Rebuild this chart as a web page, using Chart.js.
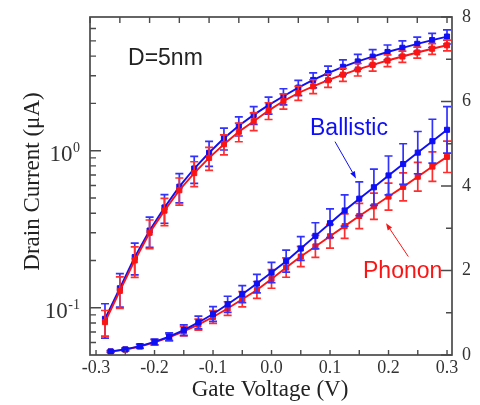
<!DOCTYPE html>
<html>
<head>
<meta charset="utf-8">
<title>Drain current vs gate voltage</title>
<script src="https://cdn.jsdelivr.net/npm/chart.js@4"></script>
<style>
  html, body { margin: 0; padding: 0; background: #fff; }
  #wrap { width: 480px; height: 405px; }
</style>
</head>
<body>
<div id="wrap"><canvas id="ivChart"></canvas></div>
<script>
// Gate voltage sweep (V)
const gateV = [-0.275, -0.25, -0.225, -0.2, -0.175, -0.15, -0.125, -0.1, -0.075, -0.05, -0.025, 0,
               0.025, 0.05, 0.075, 0.1, 0.125, 0.15, 0.175, 0.2, 0.225, 0.25, 0.275, 0.3];

// Drain current (uA) with error bars
const ballistic    = [0.085, 0.133, 0.21, 0.31, 0.435, 0.59, 0.77, 0.97, 1.20, 1.44, 1.69, 1.95,
                      2.22, 2.52, 2.82, 3.12, 3.42, 3.70, 3.97, 4.25, 4.52, 4.79, 5.06, 5.33];
const ballisticErr = [0.021, 0.032, 0.048, 0.068, 0.090, 0.125, 0.150, 0.175, 0.19, 0.20, 0.22, 0.24,
                      0.26, 0.28, 0.31, 0.34, 0.37, 0.40, 0.43, 0.46, 0.48, 0.50, 0.52, 0.55];
const phonon       = [0.081, 0.128, 0.20, 0.30, 0.415, 0.56, 0.72, 0.90, 1.10, 1.32, 1.54, 1.80,
                      2.07, 2.33, 2.57, 2.81, 3.05, 3.29, 3.52, 3.75, 3.98, 4.22, 4.46, 4.69];
const phononErr    = [0.015, 0.029, 0.044, 0.062, 0.082, 0.11, 0.13, 0.15, 0.16, 0.18, 0.20, 0.22,
                      0.23, 0.24, 0.26, 0.28, 0.29, 0.30, 0.31, 0.32, 0.33, 0.34, 0.35, 0.37];

// Axis ticks
const xTicks      = [-0.3, -0.25, -0.2, -0.15, -0.1, -0.05, 0, 0.05, 0.1, 0.15, 0.2, 0.25, 0.3];
const xLabelVals  = [-0.3, -0.2, -0.1, 0, 0.1, 0.2, 0.3];
const xLabels     = ['-0.3', '-0.2', '-0.1', '0.0', '0.1', '0.2', '0.3'];
const logMajor    = [0.1, 1];
const logExp      = ['-1', '0'];
const logMinor    = [0.06, 0.07, 0.08, 0.09, 0.2, 0.3, 0.4, 0.5, 0.6, 0.7, 0.8, 0.9, 2, 3, 4, 5, 6];
const linMajor    = [0, 2, 4, 6, 8];
const linLabels   = ['0', '2', '4', '6', '8'];
const linMinor    = [1, 3, 5, 7];

const BLUE = 'rgb(15, 15, 245)';
const BLUE_BAR = 'rgb(50, 50, 255)';
const RED = 'rgb(250, 20, 20)';
const RED_BAR = 'rgb(255, 45, 45)';
const SERIF = '"Liberation Serif", "Times New Roman", serif';
const SANS = '"Liberation Sans", Arial, sans-serif';

// text notes and arrows, placed in (V, linear-axis uA) coordinates
const notes = [
  { text: 'D=5nm', x: -0.2453, y: 6.864, color: '#222' },
  { text: 'Ballistic', x: 0.0658, y: 5.207, color: BLUE },
  { text: 'Phonon', x: 0.1564, y: 1.822, color: RED }
];
const arrows = [
  { from: [0.1085, 5.05], to: [0.1444, 4.18], color: BLUE },
  { from: [0.2338, 2.33], to: [0.1957, 3.12], color: RED }
];

function pts(vals) {
  return gateV.map((v, i) => ({ x: v, y: vals[i] }));
}

function series(label, vals, errs, color, barColor, xId, yId, order) {
  return {
    label: label,
    data: pts(vals),
    errors: errs,
    errorColor: barColor,
    xAxisID: xId,
    yAxisID: yId,
    order: order,
    borderColor: color,
    backgroundColor: color,
    borderWidth: 1.9,
    pointStyle: 'rect',
    pointRadius: 3.6,
    pointBorderWidth: 1,
    pointBorderColor: color,
    pointBackgroundColor: color,
    tension: 0,
    clip: 8
  };
}

function drawArrow(ctx, x1, y1, x2, y2, color) {
  const a = Math.atan2(y2 - y1, x2 - x1);
  const len = 7, half = 2.6;
  ctx.strokeStyle = color;
  ctx.fillStyle = color;
  ctx.lineWidth = 1;
  ctx.beginPath();
  ctx.moveTo(x1, y1);
  ctx.lineTo(x2 - len * Math.cos(a), y2 - len * Math.sin(a));
  ctx.stroke();
  ctx.beginPath();
  ctx.moveTo(x2, y2);
  ctx.lineTo(x2 - len * Math.cos(a) + half * Math.sin(a), y2 - len * Math.sin(a) - half * Math.cos(a));
  ctx.lineTo(x2 - len * Math.cos(a) - half * Math.sin(a), y2 - len * Math.sin(a) + half * Math.cos(a));
  ctx.closePath();
  ctx.fill();
}

const ivDecor = {
  id: 'ivDecor',
  // error bars go under each series' own line and markers
  beforeDatasetDraw(chart, args) {
    const ds = chart.data.datasets[args.index];
    if (!ds.errors) return;
    const xs = chart.scales[ds.xAxisID];
    const ys = chart.scales[ds.yAxisID];
    const ctx = chart.ctx;
    ctx.save();
    ctx.strokeStyle = ds.errorColor;
    ctx.lineWidth = 1.7;
    ds.data.forEach((p, i) => {
      const e = ds.errors[i];
      const px = xs.getPixelForValue(p.x);
      const top = ys.getPixelForValue(p.y + e);
      const bot = ys.getPixelForValue(p.y - e);
      ctx.beginPath();
      ctx.moveTo(px, top); ctx.lineTo(px, bot);
      ctx.moveTo(px - 4, top); ctx.lineTo(px + 4, top);
      ctx.moveTo(px - 4, bot); ctx.lineTo(px + 4, bot);
      ctx.stroke();
    });
    ctx.restore();
  },
  afterDraw(chart) {
    const ctx = chart.ctx;
    const area = chart.chartArea;
    const sx = chart.scales.x, sxLog = chart.scales.xLog;
    const sLog = chart.scales.yLog, sLin = chart.scales.yLin;
    ctx.save();

    // frame
    ctx.strokeStyle = '#4a4a4a';
    ctx.lineWidth = 1.7;
    ctx.strokeRect(area.left, area.top, area.right - area.left, area.bottom - area.top);

    // inward tick marks
    ctx.lineWidth = 1.4;
    ctx.beginPath();
    xTicks.forEach(v => {
      const b = sx.getPixelForValue(v);
      ctx.moveTo(b, area.bottom); ctx.lineTo(b, area.bottom - 5);
      const t = sxLog.getPixelForValue(v);
      ctx.moveTo(t, area.top); ctx.lineTo(t, area.top + 6);
    });
    logMajor.forEach(v => {
      const y = sLog.getPixelForValue(v);
      ctx.moveTo(area.left, y); ctx.lineTo(area.left + 11, y);
    });
    logMinor.forEach(v => {
      const y = sLog.getPixelForValue(v);
      ctx.moveTo(area.left, y); ctx.lineTo(area.left + 6, y);
    });
    linMajor.forEach(v => {
      const y = sLin.getPixelForValue(v);
      ctx.moveTo(area.right, y); ctx.lineTo(area.right - 11, y);
    });
    linMinor.forEach(v => {
      const y = sLin.getPixelForValue(v);
      ctx.moveTo(area.right, y); ctx.lineTo(area.right - 6, y);
    });
    ctx.stroke();

    // tick labels
    ctx.fillStyle = '#333';
    ctx.font = '18px ' + SERIF;
    ctx.textAlign = 'center';
    ctx.textBaseline = 'middle';
    xLabelVals.forEach((v, i) => {
      ctx.fillText(xLabels[i], sx.getPixelForValue(v), area.bottom + 13);
    });
    ctx.textAlign = 'left';
    linMajor.forEach((v, i) => {
      ctx.fillText(linLabels[i], area.right + 10, sLin.getPixelForValue(v));
    });

    // 10^n labels on the log axis
    ctx.textBaseline = 'alphabetic';
    logMajor.forEach((v, i) => {
      const y = sLog.getPixelForValue(v);
      ctx.font = '14px ' + SERIF;
      const ew = ctx.measureText(logExp[i]).width;
      const right = area.left - 10;
      ctx.textAlign = 'left';
      ctx.fillText(logExp[i], right - ew, y + 1);
      ctx.font = '23px ' + SERIF;
      ctx.textAlign = 'right';
      ctx.fillText('10', right - ew - 0.5, y + 10.5);
    });

    // axis titles
    ctx.fillStyle = '#222';
    ctx.font = '23px ' + SERIF;
    ctx.textAlign = 'center';
    ctx.fillText('Gate Voltage (V)', 270, 396);
    ctx.save();
    ctx.translate(39, 181.5);
    ctx.rotate(-Math.PI / 2);
    ctx.fillText('Drain Current (\u03bcA)', 0, 0);
    ctx.restore();

    // series notes
    ctx.font = '23px ' + SANS;
    ctx.textAlign = 'left';
    notes.forEach(n => {
      ctx.fillStyle = n.color;
      ctx.fillText(n.text, sx.getPixelForValue(n.x), sLin.getPixelForValue(n.y));
    });
    arrows.forEach(a => {
      drawArrow(ctx,
        sx.getPixelForValue(a.from[0]), sLin.getPixelForValue(a.from[1]),
        sx.getPixelForValue(a.to[0]), sLin.getPixelForValue(a.to[1]), a.color);
    });

    ctx.restore();
  }
};

new Chart(document.getElementById('ivChart'), {
  type: 'line',
  data: {
    datasets: [
      series('Phonon', phonon, phononErr, RED, RED_BAR, 'xLog', 'yLog', 0),
      series('Ballistic', ballistic, ballisticErr, BLUE, BLUE_BAR, 'xLog', 'yLog', 1),
      series('Ballistic', ballistic, ballisticErr, BLUE, BLUE_BAR, 'x', 'yLin', 2),
      series('Phonon', phonon, phononErr, RED, RED_BAR, 'x', 'yLin', 3)
    ]
  },
  options: {
    responsive: true,
    maintainAspectRatio: false,
    animation: false,
    layout: { padding: { left: 90, right: 28, top: 17, bottom: 50 } },
    plugins: { legend: { display: false }, tooltip: { enabled: false } },
    scales: {
      x:    { type: 'linear', min: -0.3103, max: 0.3085, display: false },
      xLog: { type: 'linear', min: -0.3002, max: 0.3084, display: false },
      yLog: { type: 'logarithmic', position: 'left', min: 0.05, max: 7.1, display: false },
      yLin: { type: 'linear', position: 'right', min: 0, max: 8, display: false }
    }
  },
  plugins: [ivDecor]
});
</script>
</body>
</html>
